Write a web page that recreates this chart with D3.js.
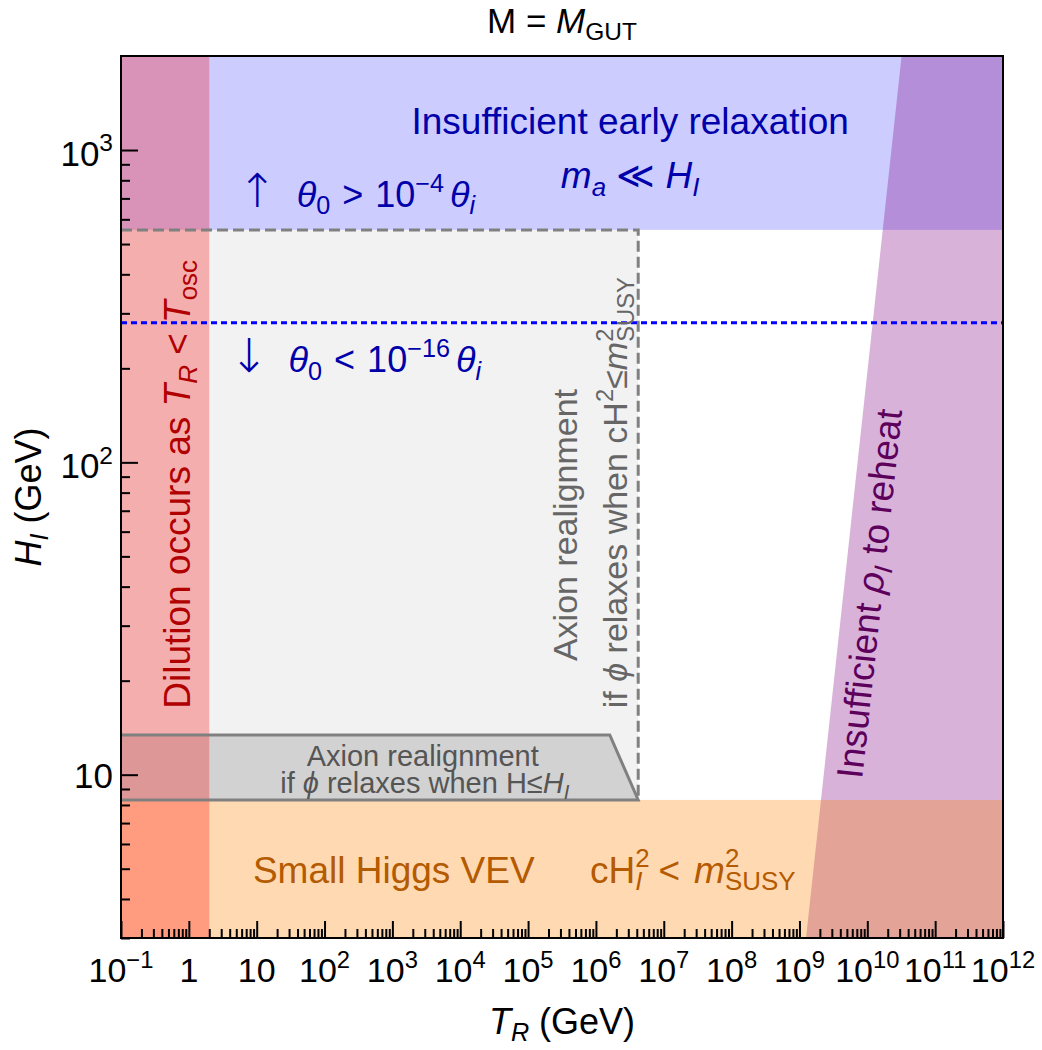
<!DOCTYPE html>
<html>
<head>
<meta charset="utf-8">
<script src="https://cdn.jsdelivr.net/npm/d3@7"></script>
<style>
  body { margin: 0; background: #fff; }
  text { font-family: "Liberation Sans", Arial, sans-serif; }
</style>
</head>
<body>
<svg id="chart" width="1042" height="1050"></svg>
<script>
// axis ranges (GeV)
var xDomain = [0.1, 1e12];
var yDomain = [3, 2000];

// major ticks and their labels: [mantissa text, exponent]
var xTickExps = [-1, 0, 1, 2, 3, 4, 5, 6, 7, 8, 9, 10, 11, 12];
var xTickLabels = [["10", "\u22121"], ["1", ""], ["10", ""], ["10", "2"], ["10", "3"], ["10", "4"], ["10", "5"],
                   ["10", "6"], ["10", "7"], ["10", "8"], ["10", "9"], ["10", "10"], ["10", "11"], ["10", "12"]];
var yTickVals = [10, 100, 1000];
var yTickLabels = [["10", ""], ["10", "2"], ["10", "3"]];

// region boundaries
var tOsc = 2.0;          // dilution band, T_R < T_osc
var hEarly = 555;        // insufficient early relaxation above this H_I
var hHiggs = 8.3;        // small Higgs VEV below this H_I
var hTheta = 280;        // theta_0 = 1e-4 / 1e-16 divide (dotted)
var realignT = 4.2e6;    // right edge of the dashed realignment box
var trapT = [0.1, 1.6e6, 4.2e6, 0.1];
var trapH = [13.4, 13.4, 8.3, 8.3];
var reheatH = [3, 2000]; // left edge of the "insufficient rho_I" wedge
var reheatT = [1.25e9, 3.2e10];

var plotL = 121, plotR = 1003, plotT = 56, plotB = 938;
var svg = d3.select("#chart");

var x = d3.scaleLog().domain(xDomain).range([plotL, plotR]);
var y = d3.scaleLog().domain(yDomain).range([plotB, plotT]);

// rich text: parts are [text, kind, opts]
// kind: "" | "i" | "sub" | "isub" | "sup" | "isup" | "ss" | "iss" (ss = subscript stacked under previous sup)
function rich(sel, parts, size) {
    var shift = 0, lastSupW = 0;
    parts.forEach(function(p) {
        var k = p[1] || "", o = p[2] || {};
        var base = k.charAt(0) == "i" ? k.slice(1) : k;
        var ts = sel.append("tspan").text(p[0]);
        var target = 0, fs = size * (o.scale || 1);
        if (base == "sub" || base == "ss") { target = 0.2 * size; fs = 0.7 * size; }
        if (base == "sup") { target = -0.42 * size; fs = 0.7 * size; }
        ts.attr("dy", target - shift).style("font-size", fs + "px");
        if (k.charAt(0) == "i") ts.style("font-style", "italic");
        if (o.family) ts.style("font-family", o.family);
        if (o.weight) ts.style("font-weight", o.weight);
        var dx = o.dx || 0;
        if (base == "ss") dx -= lastSupW;
        if (dx) ts.attr("dx", dx);
        if (base == "sup") lastSupW = ts.node().getComputedTextLength();
        shift = target;
    });
    return sel;
}

function label(px, py, parts, size, color, anchor, angle) {
    var g = svg.append("g").attr("transform", "translate(" + px + "," + py + ") rotate(" + (angle || 0) + ")");
    var t = g.append("text").attr("text-anchor", anchor || "start").style("font-size", size + "px").attr("fill", color);
    rich(t, parts, size);
    return t;
}

var plot = svg.append("g");

// light grey realignment box
plot.append("rect")
    .attr("x", x(xDomain[0])).attr("y", y(hEarly))
    .attr("width", x(realignT) - x(xDomain[0]))
    .attr("height", y(hHiggs) - y(hEarly))
    .attr("fill", "#f2f2f2");

// darker grey trapezoid
var trapPts = trapT.map(function(t, i) { return [x(t), y(trapH[i])]; });
plot.append("polygon")
    .attr("points", trapPts.map(function(p) { return p.join(","); }).join(" "))
    .attr("fill", "#d2d2d2");

// blue: insufficient early relaxation
plot.append("rect")
    .attr("x", plotL).attr("y", plotT)
    .attr("width", plotR - plotL).attr("height", y(hEarly) - plotT)
    .attr("fill", "#0000ff").attr("fill-opacity", 0.2);

// purple wedge
var wedge = [[x(reheatT[0]), y(reheatH[0])], [x(reheatT[1]), y(reheatH[1])], [plotR, plotT], [plotR, plotB]];
plot.append("polygon")
    .attr("points", wedge.map(function(p) { return p.join(","); }).join(" "))
    .attr("fill", "#800080").attr("fill-opacity", 0.3);

// orange: small Higgs VEV
plot.append("rect")
    .attr("x", plotL).attr("y", y(hHiggs))
    .attr("width", plotR - plotL).attr("height", plotB - y(hHiggs))
    .attr("fill", "#ff8000").attr("fill-opacity", 0.3);

// red: dilution
plot.append("rect")
    .attr("x", plotL).attr("y", plotT)
    .attr("width", x(tOsc) - plotL).attr("height", plotB - plotT)
    .attr("fill", "#ff0000").attr("fill-opacity", 0.28);

// trapezoid outline
plot.append("polyline")
    .attr("points", trapPts.map(function(p) { return p.join(","); }).join(" "))
    .attr("fill", "none").attr("stroke", "#808080").attr("stroke-width", 3);

// dashed box edges
plot.append("path")
    .attr("d", d3.line()([[x(xDomain[0]), y(hEarly)], [x(realignT), y(hEarly)], [x(realignT), y(hHiggs)]]))
    .attr("fill", "none").attr("stroke", "#808080").attr("stroke-width", 3)
    .attr("stroke-dasharray", "11,5");

// dotted theta divide
plot.append("line")
    .attr("x1", plotL).attr("x2", plotR)
    .attr("y1", y(hTheta)).attr("y2", y(hTheta))
    .attr("stroke", "#0000ff").attr("stroke-width", 3).attr("stroke-dasharray", "6,4");

// ---- annotations ----
var blue = "#0000aa";
var arrowOpt = { family: "'DejaVu Sans', sans-serif", scale: 1.3, weight: 300 };
label(x(5.2), y(657), [["\u2191", "", arrowOpt], ["\u03b8", "i", { dx: 20 }], ["0", "sub"], [">", "", { dx: 12 }], ["10", "", { dx: 12 }], ["\u22124", "sup"], ["\u03b8", "i", { dx: 6 }], ["i", "isub"]], 36, blue);
label(x(3.95), y(194), [["\u2193", "", arrowOpt], ["\u03b8", "i", { dx: 20 }], ["0", "sub"], ["<", "", { dx: 12 }], ["10", "", { dx: 12 }], ["\u221216", "sup"], ["\u03b8", "i", { dx: 6 }], ["i", "isub"]], 36, blue);
label(x(3.2e6), y(1125), [["Insufficient early relaxation", ""]], 37, blue, "middle");
label(x(3.2e6), y(755), [["m", "i"], ["a", "isub"], [" \u226a ", ""], ["H", "i"], ["I", "isub"]], 37, blue, "middle");

label(x(1.04), y(85), [["Dilution occurs as ", ""], ["T", "i"], ["R", "isub"], [" < ", ""], ["T", "i"], ["osc", "sub"]], 37, "#b00000", "middle", -90);

label(x(5.3e5), y(63), [["Axion realignment", ""]], 34, "#666666", "middle", -90);
label(x(2.9e6), y(80), [["if ", ""], ["\u03d5", "i"], [" relaxes when cH", ""], ["2", "sup"], ["\u2264", ""], ["m", "i"], ["2", "sup"], ["SUSY", "ss"]], 34, "#666666", "middle", -90);

label(x(2.8e3), y(10.65), [["Axion realignment", ""]], 29, "#555555", "middle");
label(x(3e3), y(8.73), [["if ", ""], ["\u03d5", "i"], [" relaxes when H\u2264", ""], ["H", "i"], ["I", "isub"]], 29, "#555555", "middle");

var orange = "#b45a00";
label(x(8.8), y(4.5), [["Small Higgs VEV", ""]], 37, orange);
label(x(8.2e5), y(4.5), [["cH", ""], ["2", "sup"], ["I", "iss"], ["<", "", { dx: 16 }], ["m", "i", { dx: 14 }], ["2", "sup"], ["SUSY", "ss"]], 37, orange);

// rotated along the wedge edge
var edgeAng = Math.atan2(y(reheatH[1]) - y(reheatH[0]), x(reheatT[1]) - x(reheatT[0])) * 180 / Math.PI;
label(x(1.65e10), y(37.6), [["Insufficient ", ""], ["\u03c1", "i"], ["I", "isub"], [" to reheat", ""]], 37, "#5c005c", "middle", edgeAng);

// ---- axes ----
var xMinor = [], yMinor = [];
xTickExps.slice(0, -1).forEach(function(e) {
    for (var m = 2; m < 10; m++) xMinor.push(m * Math.pow(10, e));
});
[1, 10, 100].forEach(function(d) {
    for (var m = 2; m < 10; m++) if (m * d >= yDomain[0] && m * d <= yDomain[1]) yMinor.push(m * d);
});

var xMajor = xTickExps.map(function(e) { return Math.pow(10, e); });

function styleAxis(g) {
    g.select(".domain").remove();
    g.selectAll(".tick line").attr("stroke", "#000").attr("stroke-width", 2);
    g.selectAll(".tick text").remove();
}

svg.append("g").attr("transform", "translate(0," + plotB + ")")
    .call(d3.axisBottom(x).tickValues(xMajor).tickSize(-17).tickFormat("")).call(styleAxis);
svg.append("g").attr("transform", "translate(0," + plotB + ")")
    .call(d3.axisBottom(x).tickValues(xMinor).tickSize(-9).tickFormat("")).call(styleAxis);
svg.append("g").attr("transform", "translate(" + plotL + ",0)")
    .call(d3.axisLeft(y).tickValues(yTickVals).tickSize(-17).tickFormat("")).call(styleAxis);
svg.append("g").attr("transform", "translate(" + plotL + ",0)")
    .call(d3.axisLeft(y).tickValues(yMinor).tickSize(-9).tickFormat("")).call(styleAxis);

// tick labels
xMajor.forEach(function(v, i) {
    var lab = xTickLabels[i];
    var parts = [[lab[0], ""]];
    if (lab[1]) parts.push([lab[1], "sup"]);
    label(x(v), 982, parts, 34, "#000", "middle");
});
yTickVals.forEach(function(v, i) {
    var lab = yTickLabels[i];
    var parts = [[lab[0], ""]];
    if (lab[1]) parts.push([lab[1], "sup"]);
    label(plotL - 8, y(v) + (lab[1] ? 16 : 13), parts, 35, "#000", "end");
});

// frame
svg.append("rect")
    .attr("x", plotL).attr("y", plotT).attr("width", plotR - plotL).attr("height", plotB - plotT)
    .attr("fill", "none").attr("stroke", "#000").attr("stroke-width", 2);

// titles
label((plotL + plotR) / 2, 33, [["M = ", ""], ["M", "i"], ["GUT", "sub"]], 35, "#000", "middle");
label((plotL + plotR) / 2, 1034, [["T", "i"], ["R", "isub"], [" (GeV)", ""]], 36, "#000", "middle");
label(41, (plotT + plotB) / 2, [["H", "i"], ["I", "isub"], [" (GeV)", ""]], 36, "#000", "middle", -90);
</script>
</body>
</html>
